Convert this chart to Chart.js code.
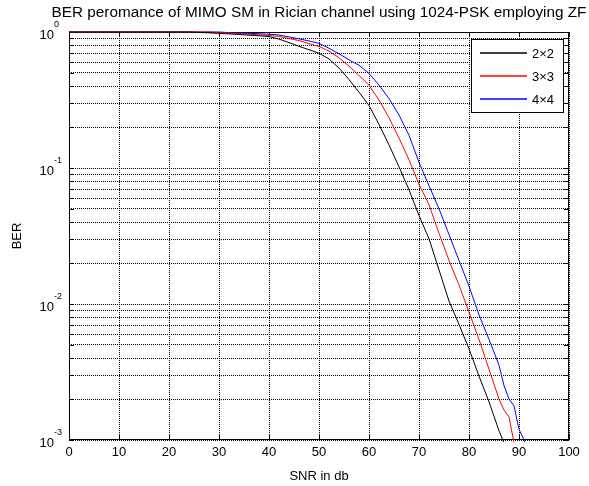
<!DOCTYPE html>
<html lang="en">
<head>
<meta charset="UTF-8">
<title>BER - MIMO SM Rician 1024-PSK ZF</title>
<script src="https://cdn.jsdelivr.net/npm/chart.js"></script>
<style>
  html, body { margin: 0; padding: 0; background: #fff; }
  #wrap { width: 589px; height: 486px; }
</style>
</head>
<body>
<div id="wrap"><canvas id="berChart" width="589" height="486"></canvas></div>
<script>
// SNR axis (dB) shared by all curves
const snrDb = [0, 2, 4, 6, 8, 10, 12, 14, 16, 18, 20, 22, 24, 26, 28, 30, 32, 34, 36, 38,
  40, 42, 44, 46, 48, 50, 52, 54, 56, 58, 60, 62, 64, 66, 68, 70, 72, 74, 76, 78,
  80, 82, 84, 86, 87, 88, 89, 90, 91, 92];

// BER (null = below 1e-3, not drawn)
const ber2x2 = [1, 1, 1, 1, 1, 1, 1, 1, 1, 1, 1, 1, 1, 0.993, 0.986, 0.977, 0.968, 0.959, 0.948, 0.938,
  0.925, 0.887, 0.836, 0.785, 0.741, 0.698, 0.634, 0.543, 0.447, 0.361, 0.288, 0.209, 0.148, 0.102, 0.0692, 0.0447, 0.0302, 0.0178, 0.0105, 0.00708,
  0.00468, 0.00295, 0.00191, 0.00117, 0.00095, 0.00071, null, null, null, null];
const ber3x3 = [1, 1, 1, 1, 1, 1, 1, 1, 1, 1, 1, 1, 1, 1, 1, 0.989, 0.982, 0.973, 0.964, 0.953,
  0.942, 0.929, 0.895, 0.865, 0.822, 0.783, 0.724, 0.646, 0.562, 0.479, 0.407, 0.316, 0.234, 0.166, 0.115, 0.0759, 0.0537, 0.0331, 0.0209, 0.0138,
  0.00871, 0.0055, 0.00331, 0.0020, 0.00166, 0.00148, 0.00095, 0.00056, null, null];
const ber4x4 = [1, 1, 1, 1, 1, 1, 1, 1, 1, 1, 1, 1, 1, 1, 1, 1, 0.989, 0.984, 0.977, 0.971,
  0.962, 0.951, 0.920, 0.891, 0.859, 0.826, 0.759, 0.692, 0.624, 0.569, 0.496, 0.407, 0.324, 0.2455, 0.174, 0.110, 0.0741, 0.0501, 0.0324, 0.0209,
  0.0135, 0.00832, 0.0055, 0.00355, 0.00251, 0.0020, 0.00178, 0.0012, 0.0010, 0.00079];

const serieNames = ['2\u00d72', '3\u00d73', '4\u00d74'];
const serieColors = ['#000000', '#ff0000', '#0000ff'];

const xTicks = [0, 10, 20, 30, 40, 50, 60, 70, 80, 90, 100];
const yDecades = [1, 0.1, 0.01, 0.001];
const yExponents = ['0', '-1', '-2', '-3'];

const fontName = "'Liberation Sans', Arial, sans-serif";
const chartTitle = 'BER peromance of MIMO SM in Rician channel using 1024-PSK employing ZF';

function toPoints(values) {
  let pts = [];
  for (let i = 0; i < snrDb.length; i++) {
    if (values[i] !== null) pts.push({ x: snrDb[i], y: values[i] });
  }
  return pts;
}

// all log grid positions: 1..9 x each decade
let yGrid = [];
for (let d = 0.001; d < 1.5; d *= 10) {
  for (let m = 1; m <= 9; m++) {
    let v = +(m * d).toPrecision(3);
    if (v <= 1) yGrid.push(v);
  }
}

// matlab look: frame, inner ticks, title, y labels with exponent, legend
const matlabLook = {
  id: 'matlabLook',
  beforeDatasetsDraw(chart) {
    const { ctx, chartArea: a, scales } = chart;
    ctx.save();
    ctx.strokeStyle = '#000';
    ctx.lineWidth = 1;
    ctx.strokeRect(Math.round(a.left) + 0.5, Math.round(a.top) + 0.5,
      Math.round(a.right - a.left) - 1, Math.round(a.bottom - a.top) - 1);
    ctx.beginPath();
    xTicks.forEach(function (t) {
      let x = Math.round(scales.x.getPixelForValue(t)) + 0.5;
      ctx.moveTo(x, a.bottom); ctx.lineTo(x, a.bottom - 5);
      ctx.moveTo(x, a.top); ctx.lineTo(x, a.top + 5);
    });
    yGrid.forEach(function (v) {
      let y = Math.round(scales.y.getPixelForValue(v)) + 0.5;
      ctx.moveTo(a.left, y); ctx.lineTo(a.left + 5, y);
      ctx.moveTo(a.right, y); ctx.lineTo(a.right - 5, y);
    });
    ctx.stroke();
    ctx.restore();
  },
  afterDraw(chart) {
    const { ctx, chartArea: a, scales } = chart;
    ctx.save();
    ctx.fillStyle = '#000';

    // title
    ctx.font = '15.3px ' + fontName;
    ctx.textAlign = 'center';
    ctx.textBaseline = 'middle';
    ctx.fillText(chartTitle, (a.left + a.right) / 2, 13);

    // y decade labels 10^n
    for (let i = 0; i < yDecades.length; i++) {
      let y = scales.y.getPixelForValue(yDecades[i]);
      ctx.font = '13px ' + fontName;
      ctx.textAlign = 'right';
      ctx.fillText('10', a.left - 15, y + 3);
      ctx.font = '9px ' + fontName;
      ctx.textAlign = 'left';
      ctx.fillText(yExponents[i], a.left - 15, y - 7);
    }

    // legend
    const bx = 471, by = 39, bw = 92, bh = 73;
    ctx.fillStyle = '#fff';
    ctx.fillRect(bx, by, bw, bh);
    ctx.strokeStyle = '#000';
    ctx.lineWidth = 1;
    ctx.strokeRect(bx + 0.5, by + 0.5, bw, bh);
    for (let i = 0; i < serieNames.length; i++) {
      let y = by + 14 + i * 23;
      ctx.strokeStyle = serieColors[i];
      ctx.lineWidth = 1.3;
      ctx.beginPath();
      ctx.moveTo(bx + 9, y);
      ctx.lineTo(bx + 56, y);
      ctx.stroke();
      ctx.fillStyle = '#000';
      ctx.font = '13px ' + fontName;
      ctx.textAlign = 'left';
      ctx.fillText(serieNames[i], bx + 61, y + 1);
    }
    ctx.restore();
  }
};

const datasets = [ber2x2, ber3x3, ber4x4].map(function (vals, i) {
  return {
    label: serieNames[i],
    data: toPoints(vals),
    borderColor: serieColors[i],
    backgroundColor: serieColors[i],
    borderWidth: 1,
    pointRadius: 0,
    tension: 0,
    fill: false,
    clip: 2
  };
});

new Chart(document.getElementById('berChart'), {
  type: 'line',
  data: { datasets: datasets },
  options: {
    responsive: false,
    animation: false,
    layout: { padding: { left: 0, right: 20, top: 32, bottom: 0 } },
    plugins: {
      legend: { display: false },
      title: { display: false },
      tooltip: { enabled: false }
    },
    scales: {
      x: {
        type: 'linear',
        min: 0,
        max: 100,
        afterBuildTicks: function (scale) {
          scale.ticks = xTicks.map(function (v) { return { value: v }; });
        },
        afterFit: function (scale) { scale.height = 46; },
        ticks: {
          color: '#000',
          font: { family: fontName, size: 13 },
          padding: 5,
          maxRotation: 0,
          autoSkip: false
        },
        grid: { color: '#000', lineWidth: 1, drawTicks: false },
        border: { display: false, dash: [1, 1] },
        title: {
          display: true,
          text: 'SNR in db',
          color: '#000',
          font: { family: fontName, size: 13 },
          padding: { top: 0, bottom: 2 }
        }
      },
      y: {
        type: 'logarithmic',
        min: 0.001,
        max: 1,
        afterBuildTicks: function (scale) {
          scale.ticks = yGrid.map(function (v) { return { value: v }; });
        },
        afterFit: function (scale) { scale.width = 69; },
        ticks: { display: false },
        grid: { color: '#000', lineWidth: 1, drawTicks: false },
        border: { display: false, dash: [1, 1] },
        title: {
          display: true,
          text: 'BER',
          color: '#000',
          font: { family: fontName, size: 13 },
          padding: { top: 10, bottom: 0 }
        }
      }
    }
  },
  plugins: [matlabLook]
});
</script>
</body>
</html>
